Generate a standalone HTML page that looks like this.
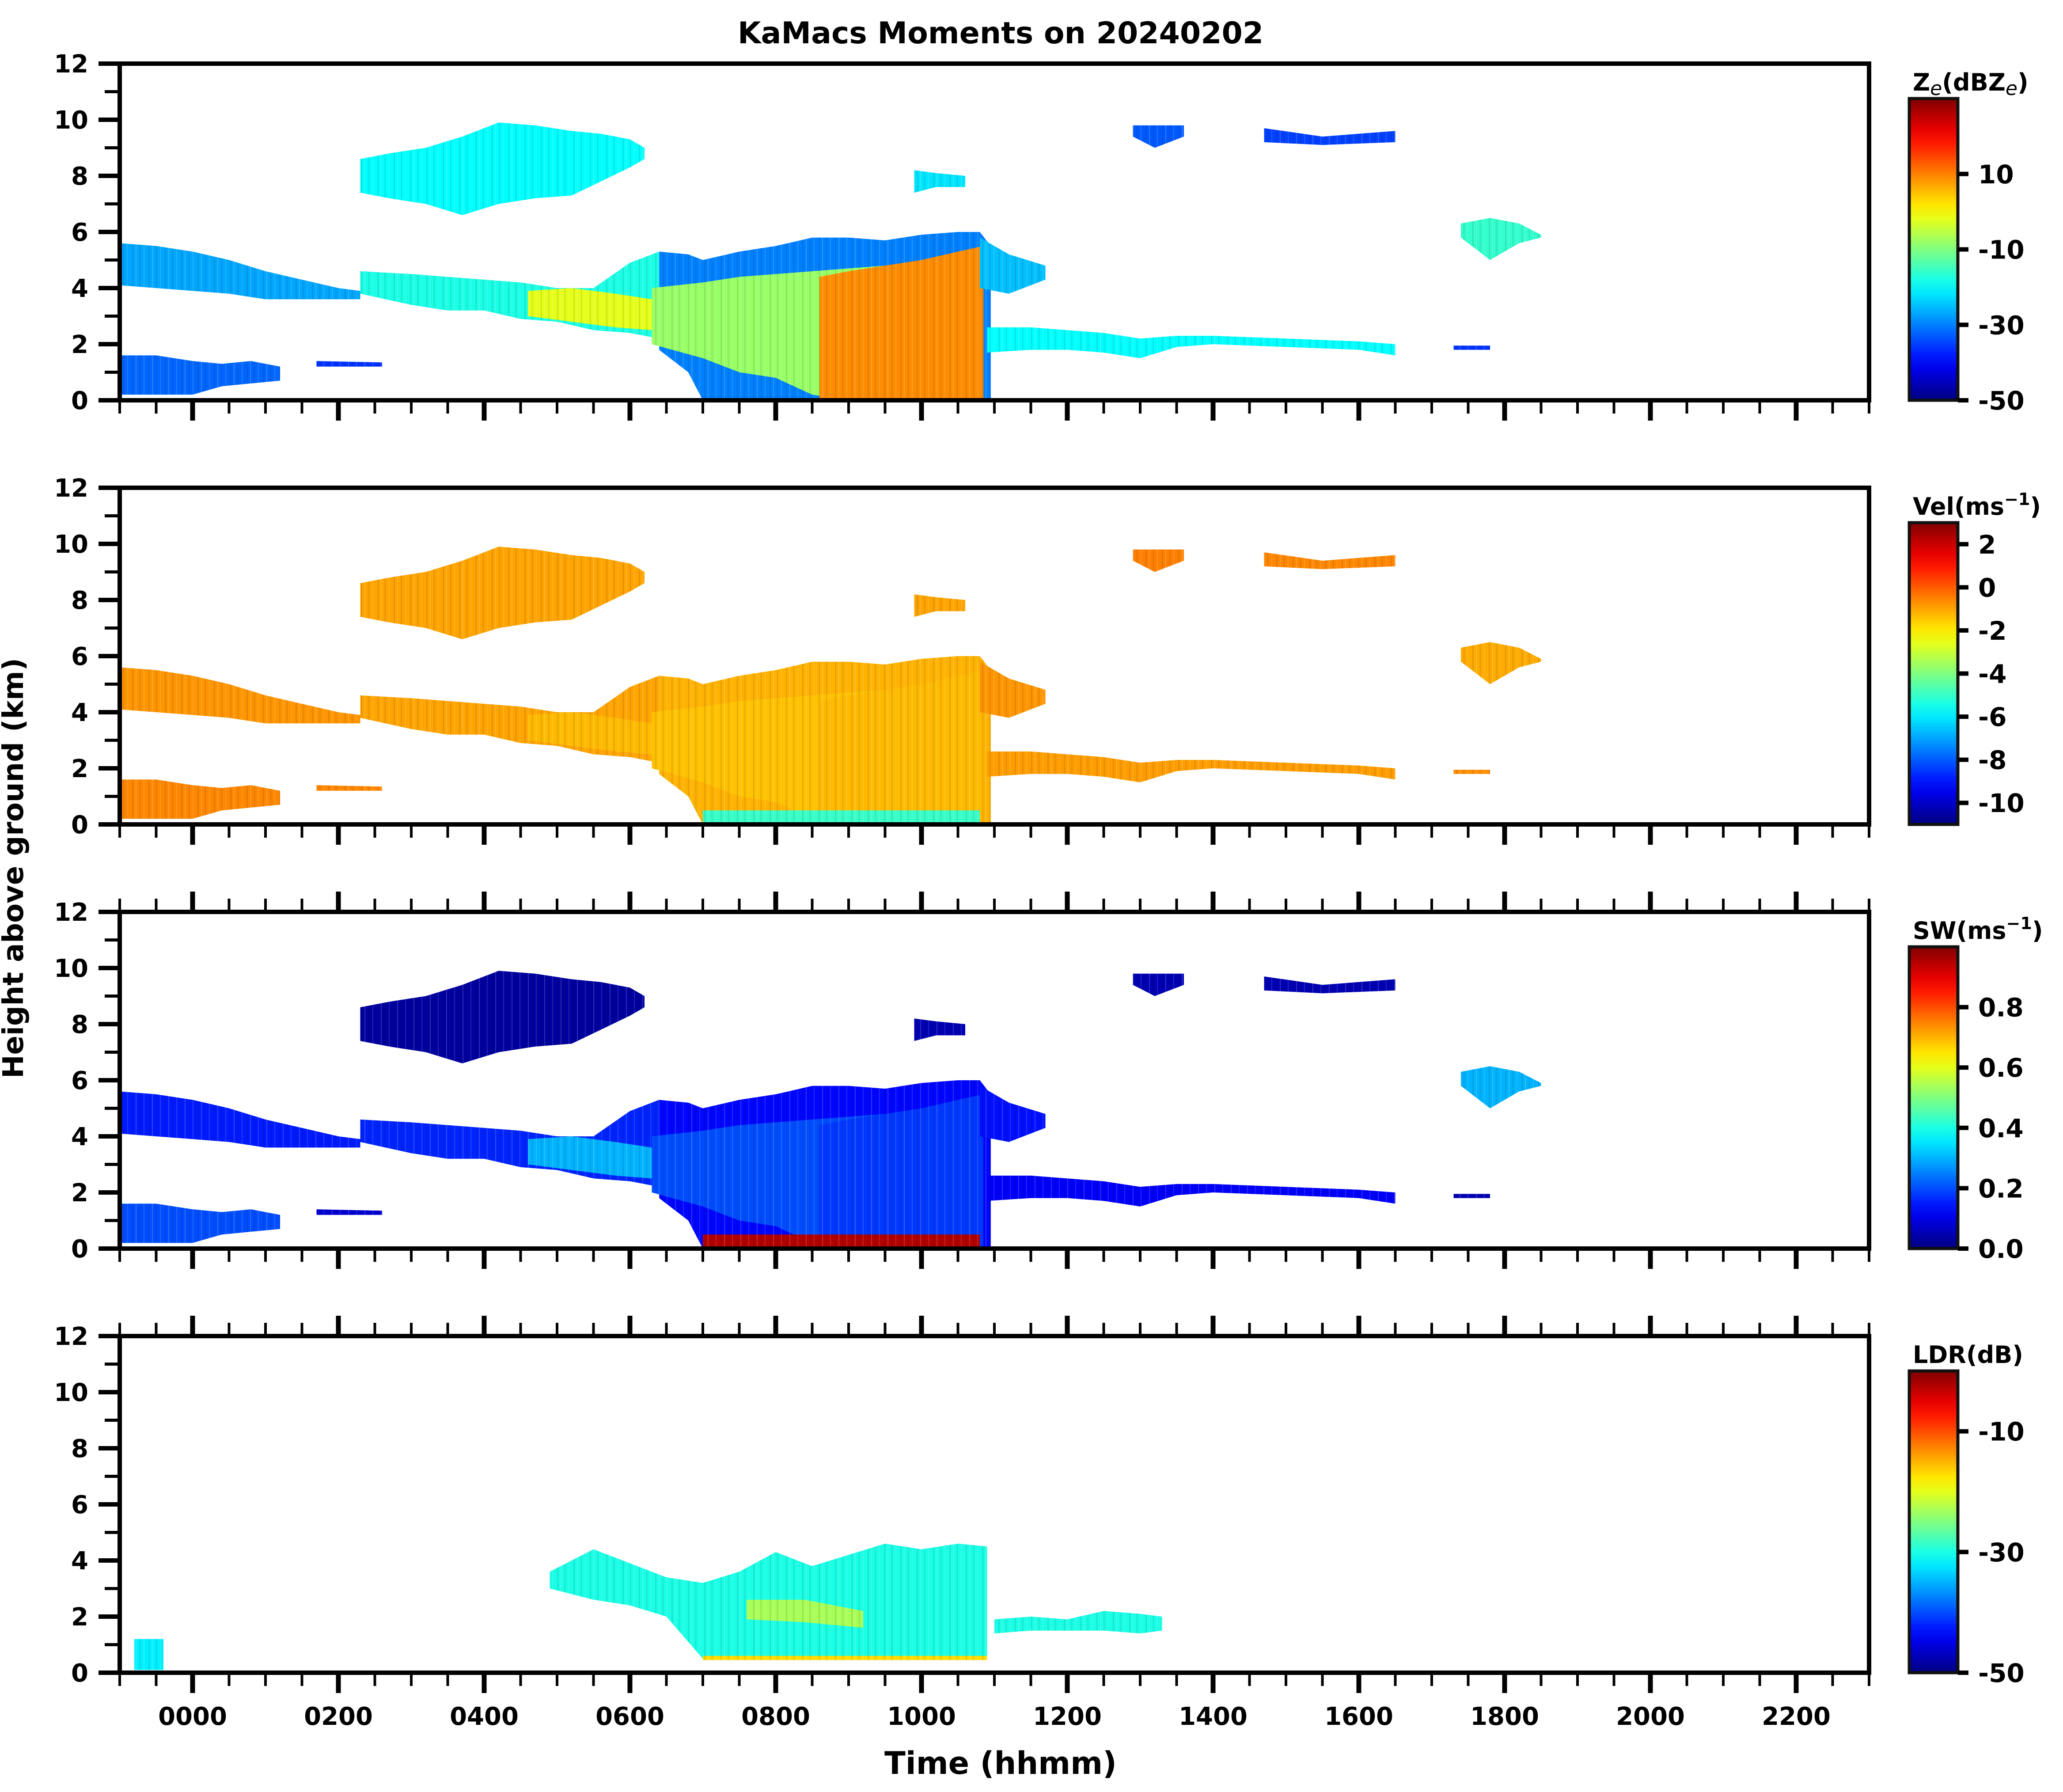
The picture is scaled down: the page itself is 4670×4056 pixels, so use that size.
<!DOCTYPE html>
<html><head><meta charset="utf-8">
<style>
html,body{margin:0;padding:0;background:#fff;}
svg{display:block;font-family:"DejaVu Sans","Liberation Sans",sans-serif;font-weight:bold;}
</style></head>
<body>
<svg id="fig" xmlns="http://www.w3.org/2000/svg" width="4670" height="4056" viewBox="0 0 4670 4056">
<defs>
<pattern id="streaks" patternUnits="userSpaceOnUse" width="37" height="60">
<rect x="3" y="0" width="3" height="60" fill="#000" opacity="0.10"/>
<rect x="11" y="0" width="2" height="60" fill="#fff" opacity="0.18"/>
<rect x="19" y="0" width="4" height="60" fill="#000" opacity="0.07"/>
<rect x="29" y="0" width="2" height="60" fill="#fff" opacity="0.14"/>
</pattern>
</defs>
<text x="2265" y="98" text-anchor="middle" font-size="68">KaMacs Moments on 20240202</text>
<text x="2265" y="4015" text-anchor="middle" font-size="70">Time (hhmm)</text>
<text transform="translate(52,1965) rotate(-90)" text-anchor="middle" font-size="64">Height above ground (km)</text>
</svg>
<script>
// ---- data: features (time in hours, heights in km) ----
const featTimes = [
 [-1,-0.5,0,0.5,1,1.5,2,2.3],
 [-1,-0.5,0,0.4,0.8,1.2],
 [2.3,2.7,3.2,3.7,4.2,4.7,5.2,5.6,6.0,6.2],
 [2.3,3,3.5,4,4.5,5,5.5,6,6.4],
 [4.6,5.2,5.8,6.3],
 [6.4,6.8,7.0,7.5,8,8.5,9,9.5,10,10.5,10.8,10.95],
 [6.3,7,7.5,8,8.5,9,9.5,10,10.5,10.8],
 [8.6,9,9.5,10,10.5,10.85],
 [10.8,11.2,11.7],
 [10.9,11.5,12,12.5,13,13.5,14,15,16,16.5],
 [9.9,10.2,10.6],
 [12.9,13.2,13.6],
 [14.7,15.5,16.5],
 [17.4,17.8,18.2,18.5],
 [17.3,17.8],
 [1.7,2.6],
 [7.0,10.8]
];
const featTops = [
 [5.6,5.5,5.3,5.0,4.6,4.3,4.0,3.9],
 [1.6,1.6,1.4,1.3,1.4,1.2],
 [8.6,8.8,9.0,9.4,9.9,9.8,9.6,9.5,9.3,9.0],
 [4.6,4.5,4.4,4.3,4.2,4.0,4.0,4.9,5.3],
 [3.9,4.0,3.8,3.6],
 [5.3,5.2,5.0,5.3,5.5,5.8,5.8,5.7,5.9,6.0,6.0,5.5],
 [4.0,4.2,4.4,4.5,4.6,4.7,4.8,4.9,5.0,5.2],
 [4.4,4.6,4.8,5.0,5.3,5.5],
 [5.8,5.2,4.8],
 [2.6,2.6,2.5,2.4,2.2,2.3,2.3,2.2,2.1,2.0],
 [8.2,8.1,8.0],
 [9.8,9.8,9.8],
 [9.7,9.4,9.6],
 [6.3,6.5,6.3,5.9],
 [1.95,1.95],
 [1.4,1.35],
 [0.5,0.5]
];
const featBases = [
 [4.1,4.0,3.9,3.8,3.6,3.6,3.6,3.6],
 [0.2,0.2,0.2,0.5,0.6,0.7],
 [7.4,7.2,7.0,6.6,7.0,7.2,7.3,7.8,8.3,8.6],
 [3.8,3.4,3.2,3.2,2.9,2.8,2.5,2.4,2.2],
 [3.0,2.8,2.6,2.5],
 [1.8,1.0,0,0,0,0,0,0,0,0,0,0],
 [2.0,1.5,1.0,0.8,0.2,0,0,0,0,0],
 [0,0,0,0,0,0],
 [4.0,3.8,4.3],
 [1.7,1.8,1.8,1.7,1.5,1.9,2.0,1.9,1.8,1.6],
 [7.4,7.6,7.6],
 [9.4,9.0,9.4],
 [9.2,9.1,9.2],
 [5.8,5.0,5.6,5.8],
 [1.8,1.8],
 [1.2,1.2],
 [0.05,0.05]
];
const zeVals  = [-27,-32,-20,-18,-2,-30,-8,9,-25,-20,-22,-33,-35,-16,-36,-36,null];
const velVals = [-0.8,-0.6,-1.0,-1.0,-1.3,-1.2,-1.4,-1.3,-0.8,-0.9,-1.0,-0.5,-0.6,-1.1,-0.7,-0.6,-5.0];
const swVals  = [0.15,0.2,0.03,0.16,0.3,0.13,0.2,0.18,0.14,0.12,0.05,0.05,0.05,0.3,0.05,0.08,0.95];
// LDR features
const ldrTimes = [
 [4.9,5.5,6,6.5,7,7.5,8,8.5,9,9.5,10,10.5,10.9],
 [11,11.5,12,12.5,13,13.3],
 [7,10.9],
 [7.6,8.4,9.2],
 [-0.8,-0.4]
];
const ldrTops = [
 [3.6,4.4,3.9,3.4,3.2,3.6,4.3,3.8,4.2,4.6,4.4,4.6,4.5],
 [1.9,2.0,1.9,2.2,2.1,2.0],
 [0.6,0.6],
 [2.6,2.6,2.2],
 [1.2,1.2]
];
const ldrBases = [
 [3.0,2.6,2.4,2.0,0.5,0.5,0.5,0.5,0.5,0.5,0.5,0.5,0.5],
 [1.4,1.5,1.5,1.5,1.4,1.5],
 [0.45,0.45],
 [1.9,1.8,1.6],
 [0.1,0.1]
];
const ldrVals = [-30,-30,-17,-23,-32];
// axis ticks
const xTickLabels = ["0000","0200","0400","0600","0800","1000","1200","1400","1600","1800","2000","2200"];
const yTickLabels = ["0","2","4","6","8","10","12"];
const zeTicks = [10,-10,-30,-50];
const velTicks = [2,0,-2,-4,-6,-8,-10];
const swTicks = [0.0,0.2,0.4,0.6,0.8];
const ldrTicks = [-10,-30,-50];

// ---- layout ----
const NS="http://www.w3.org/2000/svg";
const svg=document.getElementById('fig');
const L=271, R=4231, T0=-1, T1=23, PH=762;
const panelTops=[144,1104,2064,3024];
function xs(t){return L+(t-T0)/(T1-T0)*(R-L);}
function ys(p,h){return panelTops[p]+PH-(h/12)*PH;}
function jet(v){
  v=Math.max(0,Math.min(1,v));
  const c=x=>Math.round(255*Math.max(0,Math.min(1,x)));
  return `rgb(${c(1.5-Math.abs(4*v-3))},${c(1.5-Math.abs(4*v-2))},${c(1.5-Math.abs(4*v-1))})`;
}
function el(tag,attrs,parent){const e=document.createElementNS(NS,tag);for(const k in attrs)e.setAttribute(k,attrs[k]);(parent||svg).appendChild(e);return e;}

const panels=[
 {name:'reflectivity',vmin:-50,vmax:30,vals:zeVals,ticks:zeTicks,fmt:v=>String(v),title:'Z<tspan font-style="italic" font-weight="normal" font-size="44" dy="10">e</tspan><tspan dy="-10">(dBZ</tspan><tspan font-style="italic" font-weight="normal" font-size="44" dy="10">e</tspan><tspan dy="-10">)</tspan>',top:false},
 {name:'velocity',vmin:-11,vmax:3,vals:velVals,ticks:velTicks,fmt:v=>String(v),title:'Vel(ms<tspan font-size="38" dy="-22">−1</tspan><tspan dy="22">)</tspan>',top:false},
 {name:'spectrum-width',vmin:0,vmax:1,vals:swVals,ticks:swTicks,fmt:v=>v.toFixed(1),title:'SW(ms<tspan font-size="38" dy="-22">−1</tspan><tspan dy="22">)</tspan>',top:true},
 {name:'ldr',vmin:-50,vmax:0,vals:ldrVals,ticks:ldrTicks,fmt:v=>String(v),title:'LDR(dB)',top:true}
];

panels.forEach((P,pi)=>{
  const g=el('g',{});
  
  
  const pt=panelTops[pi], pb=pt+PH;
  const clipId='clip'+pi;
  const cp=el('clipPath',{id:clipId},g);
  el('rect',{x:L,y:pt,width:R-L,height:PH},cp);
  const data=el('g',{'clip-path':`url(#${clipId})`},g);
  
  
  const times = pi===3?ldrTimes:featTimes, tops=pi===3?ldrTops:featTops, bases=pi===3?ldrBases:featBases;
  times.forEach((tt,fi)=>{
    const v=P.vals[fi]; if(v===null||v===undefined) return;
    let pts=[];
    tt.forEach((t,k)=>pts.push(xs(t).toFixed(1)+','+ys(pi,tops[fi][k]).toFixed(1)));
    for(let k=tt.length-1;k>=0;k--) pts.push(xs(tt[k]).toFixed(1)+','+ys(pi,bases[fi][k]).toFixed(1));
    const col=jet((v-P.vmin)/(P.vmax-P.vmin));
    const poly=el('polygon',{points:pts.join(' '),fill:col},data);
    
    
    el('polygon',{points:pts.join(' '),fill:'url(#streaks)'},data);
  });
  const fr=el('rect',{x:L,y:pt,width:R-L,height:PH,fill:'none',stroke:'#000','stroke-width':10},g);
  
  
  for(let h=0;h<=12;h++){
    const y=ys(pi,h), maj=h%2===0;
    el('line',{x1:L-(maj?48:34),x2:L,y1:y,y2:y,stroke:'#000','stroke-width':maj?10:7},g);
  }
  yTickLabels.forEach((lab,i)=>{
    const t=el('text',{x:200,y:ys(pi,+lab)+20,'text-anchor':'end','font-size':56},g);
    t.textContent=lab;
    
    
  });
  for(let k=0;k<=48;k++){
    const t=T0+k*0.5, x=xs(t), maj=Math.abs(((t%2)+2)%2)<1e-6;
    const len=maj?46:30, w=maj?11:6;
    el('line',{x1:x,x2:x,y1:pb,y2:pb+len,stroke:'#000','stroke-width':w},g);
    if(P.top) el('line',{x1:x,x2:x,y1:pt,y2:pt-len,stroke:'#000','stroke-width':w},g);
  }
  if(pi===3){
    xTickLabels.forEach((lab,i)=>{
      const t=el('text',{x:xs(i*2),y:3904,'text-anchor':'middle','font-size':56},g);
      t.textContent=lab;
      
      
    });
  }
  const cb=el('g',{},g);
  
  
  const cbT=pt+79, cbB=pb, cbL=4322, cbR=4432;
  const gid='grad'+pi;
  const lg=el('linearGradient',{id:gid,x1:0,y1:1,x2:0,y2:0},cb);
  for(let s=0;s<=20;s++) el('stop',{offset:s/20,'stop-color':jet(s/20)},lg);
  el('rect',{x:cbL,y:cbT,width:cbR-cbL,height:cbB-cbT,fill:`url(#${gid})`,stroke:'#111','stroke-width':7},cb);
  P.ticks.forEach(v=>{
    const y=cbB-(v-P.vmin)/(P.vmax-P.vmin)*(cbB-cbT);
    el('line',{x1:cbR,x2:cbR+24,y1:y,y2:y,stroke:'#000','stroke-width':10},cb);
    const t=el('text',{x:4478,y:y+21,'font-size':58},cb);
    t.textContent=P.fmt(v);
    
    
  });
  const ct=el('text',{x:4330,y:cbT-18,'font-size':54},cb);
  ct.innerHTML=P.title;
  
  
});
</script>
</body></html>
